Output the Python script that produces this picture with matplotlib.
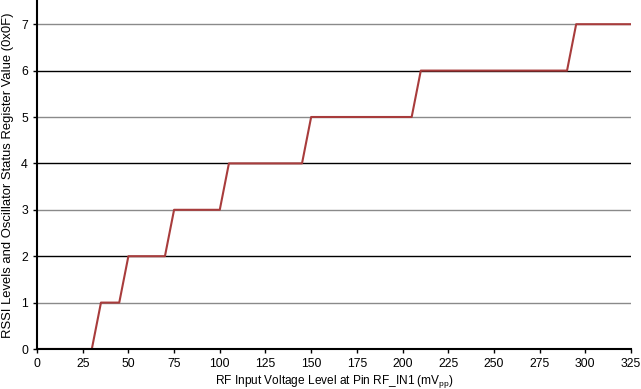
import matplotlib
matplotlib.use("Agg")
import matplotlib.pyplot as plt

x_mv = [0, 30, 35, 45, 50, 70, 75, 100, 105, 145, 150, 205, 210, 290, 295, 325]
rssi = [0, 0, 1, 1, 2, 2, 3, 3, 4, 4, 5, 5, 6, 6, 7, 7]
x_ticks = [0, 25, 50, 75, 100, 125, 150, 175, 200, 225, 250, 275, 300, 325]
y_ticks = [0, 1, 2, 3, 4, 5, 6, 7]

plt.rcParams['font.family'] = ['Liberation Sans', 'DejaVu Sans']
plt.rcParams['mathtext.fontset'] = 'custom'
plt.rcParams['mathtext.rm'] = 'Liberation Sans'

fig = plt.figure(figsize=(6.41, 3.89), dpi=100)
ax = fig.add_axes([37/641, 1 - 349/389, (631 - 37)/641, 348/389])

for y in y_ticks[1:]:
    ax.axhline(y, color='black' if y % 2 == 0 else '#8a8a8a', lw=1.0, zorder=1)

ax.plot(x_mv, rssi, color='#A83C3C', lw=1.5, zorder=3)

ax.set_xlim(0, 325)
ax.set_ylim(0, 7.5)
ax.set_xticks(x_ticks)
ax.set_yticks(y_ticks)
ax.tick_params(axis='both', labelsize=8.8, direction='out', length=3, width=1, colors='black')
for s in ['top', 'right']:
    ax.spines[s].set_visible(False)
for s in ['left', 'bottom']:
    ax.spines[s].set_linewidth(1.5)
    ax.spines[s].set_zorder(4)
ax.set_xlabel(r"RF Input Voltage Level at Pin RF_IN1 (mV$_{\mathregular{pp}}$)",
              fontsize=8.6, labelpad=2)
ax.set_ylabel("RSSI Levels and Oscillator Status Register Value (0x0F)", fontsize=9.4, labelpad=5)

fig.savefig("out.png", dpi=100)
